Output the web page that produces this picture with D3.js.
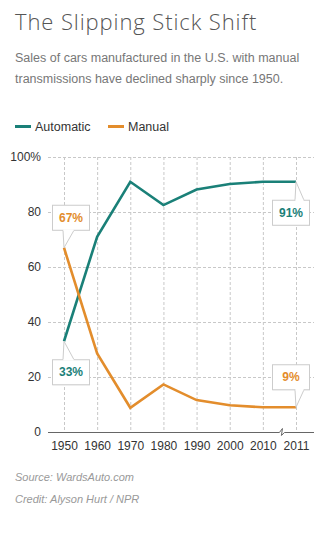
<!DOCTYPE html>
<html>
<head>
<meta charset="utf-8">
<script src="https://cdn.jsdelivr.net/npm/d3@7"></script>
<style>
  body { margin: 0; background: #fff; }
  svg { display: block; font-family: "Liberation Sans", Arial, sans-serif; }
</style>
</head>
<body>
<div id="wrapper"></div>
<script>
let years = ["1950", "1960", "1970", "1980", "1990", "2000", "2010", "2011"];
let automatic = [33, 71, 91, 82.5, 88.2, 90.2, 91, 91];
let manual = [67, 28.6, 8.8, 17.3, 11.6, 9.7, 9, 9];
let yTicks = [0, 20, 40, 60, 80, 100];

let seriesList = [
  { name: "Automatic", values: automatic, color: "#1a8078" },
  { name: "Manual", values: manual, color: "#e38d2c" }
];

// which points get a little label box
let callouts = [
  { series: 1, index: 0, label: "67%", side: "above", align: "left" },
  { series: 0, index: 0, label: "33%", side: "below", align: "left" },
  { series: 0, index: 7, label: "91%", side: "below", align: "right" },
  { series: 1, index: 7, label: "9%", side: "above", align: "right" }
];

let dimensions = {
  width: 332,
  height: 533,
  plotLeft: 48,
  plotRight: 314,
  plotTop: 157,
  plotBottom: 432
};

let wrapper = d3.select("#wrapper")
  .append("svg")
  .attr("width", dimensions.width)
  .attr("height", dimensions.height);

// header
wrapper.append("text")
  .attr("x", 15).attr("y", 30)
  .attr("font-family", "'Open Sans', sans-serif")
  .attr("font-weight", 300)
  .attr("font-size", "22px")
  .attr("letter-spacing", "0.9px")
  .attr("fill", "#555")
  .text("The Slipping Stick Shift");

["Sales of cars manufactured in the U.S. with manual",
 "transmissions have declined sharply since 1950."].forEach((line, i) => {
  wrapper.append("text")
    .attr("x", 15).attr("y", 62 + i * 21)
    .attr("font-size", "12.5px")
    .attr("fill", "#777")
    .text(line);
});

// legend
let legend = wrapper.append("g").attr("transform", "translate(15, 131)");
let legendX = [0, 93];
seriesList.forEach((s, i) => {
  let g = legend.append("g").attr("transform", `translate(${legendX[i]}, 0)`);
  g.append("rect").attr("x", 0).attr("y", -6).attr("width", 16).attr("height", 3).attr("fill", s.color);
  g.append("text").attr("x", 20).attr("y", 0)
    .attr("font-size", "12.5px").attr("fill", "#333").text(s.name);
});

let xScale = d3.scalePoint()
  .domain(years)
  .range([64, 296]);

let yScale = d3.scaleLinear()
  .domain([0, 100])
  .range([dimensions.plotBottom, dimensions.plotTop]);

let bounds = wrapper.append("g");

// grid
bounds.append("g")
  .selectAll("line.h")
  .data(yTicks.filter(d => d > 0))
  .join("line")
  .attr("x1", dimensions.plotLeft)
  .attr("x2", dimensions.plotRight)
  .attr("y1", d => yScale(d) + 0.5)
  .attr("y2", d => yScale(d) + 0.5)
  .attr("stroke", "#c8c8c8")
  .attr("stroke-dasharray", "3,2");

bounds.append("g")
  .selectAll("line.v")
  .data(years)
  .join("line")
  .attr("x1", d => xScale(d) + 0.5)
  .attr("x2", d => xScale(d) + 0.5)
  .attr("y1", dimensions.plotTop)
  .attr("y2", dimensions.plotBottom)
  .attr("stroke", "#c8c8c8")
  .attr("stroke-dasharray", "3,2");

// y axis labels
let yAxis = bounds.append("g")
  .attr("transform", `translate(${dimensions.plotLeft - 7}, 0)`)
  .call(d3.axisLeft(yScale).tickValues(yTicks).tickSize(0)
    .tickFormat(d => d === 100 ? "100%" : d));
yAxis.select(".domain").remove();
yAxis.selectAll("text")
  .attr("font-family", "'Liberation Sans', Arial, sans-serif")
  .attr("font-size", "12px").attr("fill", "#333").attr("x", 0);

// x axis labels
let xAxis = bounds.append("g")
  .attr("transform", `translate(0, ${dimensions.plotBottom + 6})`)
  .call(d3.axisBottom(xScale).tickSize(0));
xAxis.select(".domain").remove();
xAxis.selectAll("text")
  .attr("font-family", "'Liberation Sans', Arial, sans-serif")
  .attr("font-size", "12px").attr("fill", "#333");

// baseline with a break between 2010 and 2011
let bx = (xScale("2010") + xScale("2011")) / 2 + 3;
let by = dimensions.plotBottom + 0.5;
bounds.append("path")
  .attr("d", `M${dimensions.plotLeft},${by} H${bx - 3} L${bx},${by - 4} L${bx - 1},${by + 3} L${bx + 2},${by} H${dimensions.plotRight}`)
  .attr("fill", "none")
  .attr("stroke", "#666")
  .attr("stroke-width", 1);

// lines
let lineGenerator = d3.line()
  .x((d, i) => xScale(years[i]))
  .y(d => yScale(d));

bounds.selectAll("path.series")
  .data(seriesList)
  .join("path")
  .attr("class", "series")
  .attr("d", d => lineGenerator(d.values))
  .attr("fill", "none")
  .attr("stroke", d => d.color)
  .attr("stroke-width", 2.6)
  .attr("stroke-linejoin", "miter");

// callout boxes
let boxW = 37, boxH = 25, gap = 18;
callouts.forEach(c => {
  let s = seriesList[c.series];
  let px = xScale(years[c.index]);
  let py = yScale(s.values[c.index]);
  let left = c.align === "left" ? px - 12 : px - 24;
  let top = c.side === "above" ? py - gap - boxH : py + gap;
  let baseY = c.side === "above" ? top + boxH : top;
  let p0 = px - 1, p1 = c.align === "left" ? px + 10 : px + 8;

  let g = bounds.append("g");
  // faint shadow
  g.append("rect")
    .attr("x", left + 1).attr("y", top + 1)
    .attr("width", boxW).attr("height", boxH)
    .attr("fill", "#e6e6e6");
  g.append("rect")
    .attr("x", left + 0.5).attr("y", top + 0.5)
    .attr("width", boxW).attr("height", boxH)
    .attr("fill", "#fff").attr("stroke", "#ccc");
  g.append("path")
    .attr("d", `M${p0},${baseY + 0.5} L${px},${py} L${p1},${baseY + 0.5}`)
    .attr("fill", "#fff").attr("stroke", "#ccc");
  g.append("line")
    .attr("x1", p0 + 0.5).attr("x2", p1 - 0.5)
    .attr("y1", baseY + 0.5).attr("y2", baseY + 0.5)
    .attr("stroke", "#fff").attr("stroke-width", 1.5);
  g.append("text")
    .attr("x", left + boxW / 2 + 0.5).attr("y", top + boxH / 2 + 4.5)
    .attr("text-anchor", "middle")
    .attr("font-size", "12px").attr("font-weight", "bold")
    .attr("fill", s.color)
    .text(c.label);
});

// footer
[["Source: WardsAuto.com", 481], ["Credit: Alyson Hurt / NPR", 503]].forEach(([t, y]) => {
  wrapper.append("text")
    .attr("x", 15).attr("y", y)
    .attr("font-size", "11px").attr("font-style", "italic")
    .attr("fill", "#999")
    .text(t);
});
</script>
</body>
</html>
